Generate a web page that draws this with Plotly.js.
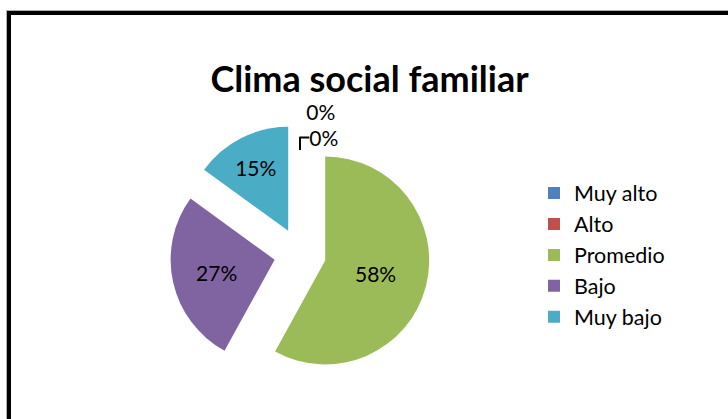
<!DOCTYPE html>
<html>
<head>
<meta charset="utf-8">
<script src="https://cdn.plot.ly/plotly-3.0.1.min.js"></script>
<style>
  html, body { margin: 0; padding: 0; background: #fff; overflow: hidden; }
  #wrap { position: relative; width: 728px; height: 419px; }
  #chart { position: absolute; left: 0; top: 0; width: 728px; height: 419px; }
  #frame { position: absolute; left: 7px; top: 11px; width: 800px; height: 500px;
           border: 4px solid #000; box-shadow: 0 0 0 1px #b0b0b0; pointer-events: none; }
</style>
</head>
<body>
<div id="wrap">
  <div id="chart"></div>
  <div id="frame"></div>
</div>
<script>
const categories = ["Muy alto", "Alto", "Promedio", "Bajo", "Muy bajo"];
const values = [0, 0, 58, 27, 15];
const colors = ["#4F81BD", "#C0504D", "#9BBB59", "#8064A2", "#4BACC6"];
const titleText = "Clima social familiar";

const trace = {
  type: "pie",
  labels: categories,
  values: values,
  sort: false,
  direction: "clockwise",
  rotation: 0,
  pull: [0, 0.25, 0.25, 0.25, 0.25],
  marker: { colors: colors, line: { width: 0 } },
  textinfo: "percent",
  textposition: ["outside", "outside", "inside", "inside", "inside"],
  insidetextorientation: "horizontal",
  textfont: { family: "Lato, sans-serif", size: 21, color: "#000" },
  outsidetextfont: { family: "Lato, sans-serif", size: 21, color: "#000" },
  hoverinfo: "label+percent",
  domain: { x: [170 / 728, 430 / 728], y: [35 / 419, 295 / 419] },
  showlegend: true
};

const layout = {
  width: 728,
  height: 419,
  margin: { l: 0, r: 0, t: 0, b: 0 },
  paper_bgcolor: "rgba(0,0,0,0)",
  plot_bgcolor: "rgba(0,0,0,0)",
  title: {
    text: "<b>" + titleText + "</b>",
    font: { family: "Lato, sans-serif", size: 36, color: "#000" },
    x: 369.5 / 728, xref: "paper", xanchor: "center",
    y: 1 - 79 / 419, yref: "container", yanchor: "middle"
  },
  legend: {
    x: 534 / 728, xanchor: "left",
    y: 1 - 255 / 419, yanchor: "middle",
    font: { family: "Lato, sans-serif", size: 21.5, color: "#000" },
    bgcolor: "rgba(0,0,0,0)"
  },
  showlegend: true
};

Plotly.newPlot("chart", [trace], layout, { displayModeBar: false, staticPlot: true });
</script>
</body>
</html>
